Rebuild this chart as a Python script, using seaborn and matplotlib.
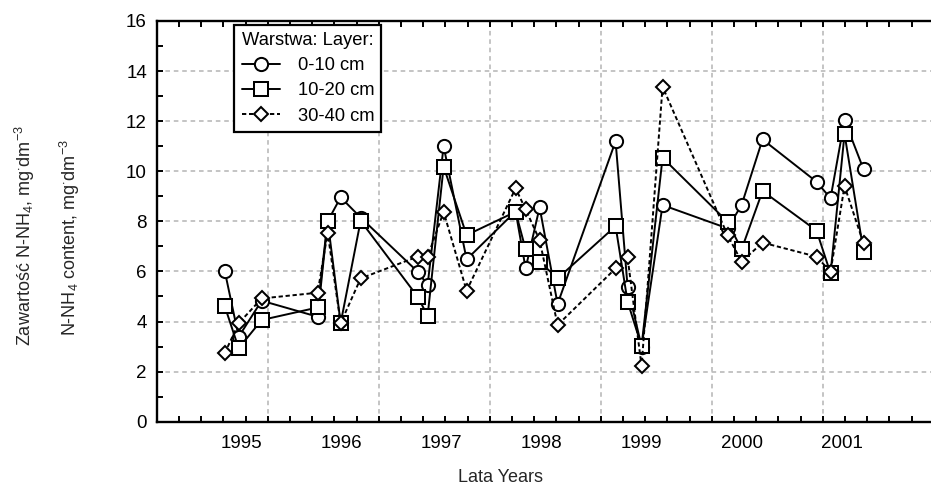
import matplotlib
matplotlib.use("Agg")
import matplotlib.pyplot as plt
import numpy as np
import pandas as pd
import seaborn as sns
from matplotlib.ticker import FixedLocator, MultipleLocator

# sampling dates (decimal years), shared by all three layers
dates = [1994.83, 1994.97, 1995.20, 1995.76, 1995.86, 1995.99, 1996.19,
         1996.76, 1996.86, 1997.02, 1997.25, 1997.74, 1997.84, 1997.98,
         1998.16, 1998.74, 1998.86, 1999.00, 1999.21, 1999.86, 2000.00,
         2000.21, 2000.75, 2000.89, 2001.03, 2001.22]

# N-NH4 content, mg/dm3
layer_0_10 = [6.03, 3.39, 4.83, 4.19, 8.00, 8.96, 8.15, 5.99, 5.46, 11.00,
              6.48, 8.40, 6.12, 8.56, 4.70, 11.20, 5.39, 3.00, 8.65, 7.72,
              8.65, 11.27, 9.58, 8.92, 12.04, 10.08]
layer_10_20 = [4.62, 2.93, 4.06, 4.56, 8.02, 3.93, 8.02, 4.99, 4.23, 10.18,
               7.45, 8.38, 6.88, 6.39, 5.72, 7.81, 4.79, 3.02, 10.54, 7.98,
               6.88, 9.21, 7.63, 5.92, 11.49, 6.79]
layer_30_40 = [2.73, 3.93, 4.92, 5.15, 7.55, 3.93, 5.72, 6.59, 6.59, 8.38,
               5.23, 9.32, 8.48, 7.25, 3.86, 6.12, 6.56, 2.22, 13.37, 7.45,
               6.39, 7.15, 6.59, 5.99, 9.41, 7.12]

layers = ["0-10 cm", "10-20 cm", "30-40 cm"]
year_ticks = [1995, 1996, 1997, 1998, 1999, 2000, 2001]

df = pd.DataFrame({
    "date": dates * 3,
    "value": layer_0_10 + layer_10_20 + layer_30_40,
    "layer": np.repeat(layers, len(dates)),
})

sns.set_theme(style="ticks")
plt.rcParams["font.family"] = ["Liberation Sans", "DejaVu Sans"]
plt.rcParams["mathtext.fontset"] = "custom"
plt.rcParams["mathtext.rm"] = "Liberation Sans"
plt.rcParams["mathtext.it"] = "Liberation Sans:italic"

fig = plt.figure(figsize=(9.31, 4.88), dpi=100)
# axes run past the right edge of the figure, as in the source
ax = fig.add_axes([0.1683, 0.1359, 0.8467, 0.8211])

sns.lineplot(
    data=df, x="date", y="value", style="layer", style_order=layers,
    markers={"0-10 cm": "o", "10-20 cm": "s", "30-40 cm": "D"},
    dashes={"0-10 cm": "", "10-20 cm": "", "30-40 cm": (2.2, 1.4)},
    color="black", lw=1.4, markersize=9.4, markerfacecolor="white",
    markeredgecolor="black", markeredgewidth=1.45, legend=False, ax=ax,
)
for ln, ms in zip(ax.get_lines(), [9.5, 9.6, 7.0]):
    ln.set_markersize(ms)

x0 = 1994.15
step = 0.2221
ax.set_xlim(x0, x0 + 35.5 * step)
ax.set_ylim(0, 16)
ax.xaxis.set_major_locator(FixedLocator(x0 + step * np.arange(5, 36, 5)))
ax.xaxis.set_minor_locator(FixedLocator(x0 + step * np.arange(1, 36)))
ax.yaxis.set_major_locator(MultipleLocator(2))
ax.yaxis.set_minor_locator(MultipleLocator(1))

ax.tick_params(axis="both", which="both", direction="in", length=4,
               width=1.4, color="black", top=True, right=False)
ax.tick_params(axis="x", which="both", labelbottom=False)
ax.tick_params(axis="y", labelsize=13.5, pad=7, labelcolor="black")
ax.set_xlabel("")
ax.set_ylabel("")

ax.grid(True, which="major", color="#b4b4b4", linestyle=(0, (3, 2.5)),
        linewidth=1.1)
for side in ["left", "bottom", "top", "right"]:
    ax.spines[side].set_linewidth(1.7)
    ax.spines[side].set_color("black")

sec = ax.secondary_xaxis("bottom")
sec.set_xticks(year_ticks)
sec.set_xticklabels([str(y) for y in year_ticks])
sec.tick_params(length=0, pad=9.5, labelsize=13.5, labelcolor="black")
sec.spines["bottom"].set_visible(False)

leg = ax.legend(ax.get_lines()[:3], layers, title="Warstwa: Layer:",
                loc="upper left", bbox_to_anchor=(0.0984, 0.99),
                borderaxespad=0, fontsize=13.2, title_fontsize=13.2,
                handlelength=2.1, handletextpad=0.95, labelspacing=0.44,
                borderpad=0.4, fancybox=False, framealpha=1,
                edgecolor="black", alignment="left")
leg.get_frame().set_linewidth(1.6)
for t in leg.get_texts():
    t.set_color("black")
leg.get_title().set_color("black")

fig.text(25 / 931, 1 - 236 / 488, "Zawartość N-NH$_4$, mg$^{\\cdot}$dm$^{-3}$",
         rotation=90, ha="center", va="center", fontsize=13)
fig.text(70 / 931, 1 - 238 / 488, "N-NH$_4$ content, mg$^{\\cdot}$dm$^{-3}$",
         rotation=90, ha="center", va="center", fontsize=13)
fig.text(500 / 931, 1 - 478 / 488, "Lata Years", ha="center", va="center",
         fontsize=13)

fig.savefig("out.png", dpi=100)
